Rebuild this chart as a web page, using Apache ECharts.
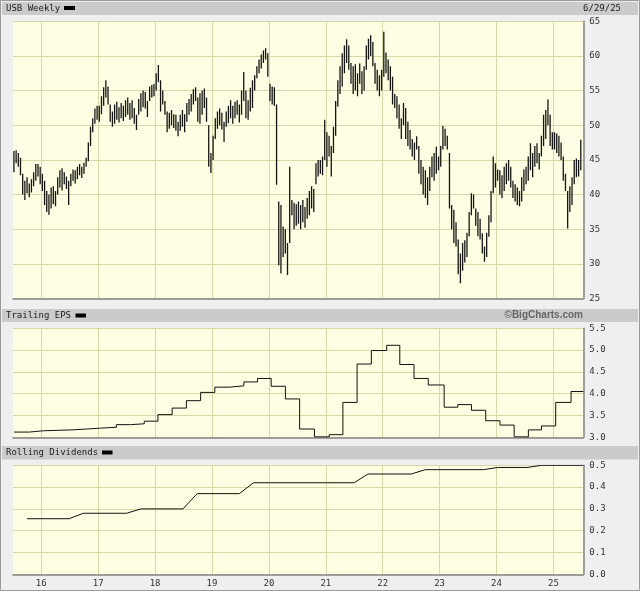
<!DOCTYPE html>
<html><head><meta charset="utf-8">
<script src="https://cdn.jsdelivr.net/npm/echarts@6/dist/echarts.min.js"></script>
<style>html,body{margin:0;padding:0;background:#efefef}#c{width:640px;height:591px}</style>
</head><body><div id="c"></div>
<script>
// ---------- DATA ----------
const yearTicks = [2016, 2017, 2018, 2019, 2020, 2021, 2022, 2023, 2024, 2025];
const barStart = 2015.5;      // first bi-weekly bar period starts here (fractional year)
const barsPerYear = 26;       // bi-weekly bars
// bi-weekly price ranges (low / high)
const priceLo = [
  43.2,44.5,44.0,42.8,40.0,39.2,40.2,39.6,40.3,41.2,42.0,42.6,41.5,
  40.5,38.5,37.5,37.1,38.0,38.6,38.3,40.0,41.0,40.6,41.5,40.8,38.5,41.2,42.0,41.6,42.2,42.8,42.4,43.0,44.0,44.8,47.0,49.0,50.2,50.8,
  50.5,51.6,52.8,54.0,53.0,50.5,49.8,50.2,50.8,50.4,51.0,50.6,51.2,51.5,50.8,51.0,50.2,49.3,51.5,52.0,52.6,52.4,51.2,53.5,54.0,54.2,
  55.0,56.2,52.0,53.0,51.5,49.0,49.5,50.0,49.6,49.2,48.4,49.2,49.8,49.0,50.5,51.5,52.0,53.0,53.5,50.5,50.2,51.5,52.5,50.5,44.0,43.1,
  45.0,48.0,49.5,50.0,49.4,47.6,49.8,50.3,51.0,50.2,51.0,51.5,50.4,51.5,53.5,51.0,50.8,52.0,52.5,55.0,56.8,57.5,58.2,59.0,59.5,57.0,
  53.5,53.0,52.8,41.4,29.8,28.6,31.0,31.5,28.4,33.0,37.0,35.0,35.5,35.8,35.0,36.0,35.2,36.5,37.0,38.0,37.5,41.5,42.6,43.0,42.8,45.0,
  44.0,45.5,42.6,46.0,48.5,52.7,54.5,55.6,57.5,59.0,58.0,56.0,54.5,55.0,54.2,56.0,54.5,55.0,58.0,59.5,60.0,58.5,56.0,55.0,54.2,55.0,57.0,
  57.5,56.5,55.0,53.0,52.5,51.0,49.5,48.0,50.0,48.0,47.0,46.5,45.5,45.0,46.5,43.0,41.5,40.0,39.5,38.5,40.5,42.5,42.0,43.0,43.5,44.0,
  46.5,47.0,46.5,38.0,35.0,33.0,32.5,28.5,27.2,29.0,30.2,31.0,34.0,37.0,38.0,35.5,34.0,33.5,31.5,30.3,31.0,33.9,36.0,40.2,41.0,42.0,
  40.0,39.5,40.5,41.5,42.0,41.0,39.5,39.0,38.5,38.3,39.0,40.5,41.5,42.0,43.5,42.5,44.0,44.5,43.6,45.5,47.0,48.0,50.0,47.0,46.5,
  46.5,46.0,45.5,45.0,42.0,40.5,35.1,37.5,38.5,41.5,42.5,42.6,43.5
];
const priceHi = [
  46.3,46.4,46.0,45.3,43.0,42.0,42.5,41.6,42.2,43.2,44.4,44.4,44.0,
  43.0,42.0,40.5,40.0,41.0,41.2,40.5,42.5,43.5,43.8,43.2,42.6,42.0,43.0,43.6,43.5,44.0,44.4,44.0,44.6,45.3,47.5,49.8,51.0,52.4,52.8,
  52.8,54.2,55.5,56.5,55.6,53.0,52.0,53.0,53.4,52.6,53.2,52.8,53.6,54.0,53.2,53.6,52.5,51.5,53.8,54.6,55.0,54.8,53.5,55.6,55.8,56.0,
  57.5,58.7,56.5,55.0,53.5,52.0,51.8,52.2,51.6,51.5,50.5,51.5,52.2,51.6,53.2,53.8,54.5,55.2,55.5,54.0,54.6,55.0,55.3,54.0,50.0,46.0,
  48.5,51.0,52.0,52.4,51.8,50.5,52.0,52.8,53.6,52.8,53.4,53.6,53.0,55.0,57.7,55.0,53.6,55.4,56.5,57.2,58.5,59.5,60.2,60.8,61.1,60.4,
  56.0,55.6,55.5,53.0,39.0,38.5,35.4,35.0,33.0,44.0,39.2,38.8,38.6,39.0,38.5,39.2,38.2,39.5,40.5,41.2,40.8,44.5,45.0,45.0,45.5,50.8,
  49.0,48.5,47.0,49.8,53.5,56.5,58.5,60.4,61.5,62.4,61.5,59.0,58.5,58.8,57.5,58.9,57.8,58.5,61.5,62.5,63.0,62.0,59.0,58.0,57.2,58.0,63.5,
  60.5,59.5,58.5,57.0,54.5,54.2,53.0,51.0,53.2,52.5,50.5,49.3,48.0,47.5,48.4,47.0,45.0,44.0,43.5,42.5,44.0,45.5,46.0,46.9,45.5,47.0,
  49.9,49.5,48.5,46.0,38.5,37.8,36.0,33.5,31.5,33.0,33.4,34.5,37.5,40.2,40.0,38.0,37.5,36.5,34.4,32.5,34.5,37.0,40.5,45.5,44.5,43.6,
  43.5,42.8,44.0,44.5,45.0,44.0,42.0,41.5,41.0,40.5,42.5,43.6,44.0,45.5,47.4,46.0,47.0,47.4,46.0,48.5,51.5,52.2,53.7,51.5,49.0,
  49.0,48.8,48.5,47.5,45.5,43.0,40.5,41.2,42.5,45.0,45.2,45.0,47.9
];
// trailing EPS: value that starts at each date (fractional years)
const epsT = [2015.52,2015.79,2016.04,2016.29,2016.54,2016.79,2017.04,2017.32,2017.57,2017.81,
  2018.05,2018.30,2018.55,2018.80,2019.05,2019.30,2019.56,2019.80,2020.04,2020.29,2020.54,2020.80,
  2021.06,2021.30,2021.55,2021.80,2022.07,2022.30,2022.55,2022.80,2023.08,2023.32,2023.56,2023.81,
  2024.06,2024.31,2024.56,2024.79,2025.04,2025.31,2025.525];
const epsV = [3.12,3.15,3.16,3.17,3.19,3.21,3.23,3.29,3.31,3.37,
  3.52,3.67,3.84,4.03,4.15,4.18,4.27,4.35,4.17,3.88,3.19,3.01,
  3.06,3.80,4.68,4.99,5.11,4.67,4.35,4.20,3.69,3.75,3.62,3.38,
  3.28,3.01,3.17,3.26,3.80,4.05,4.05];
// rolling dividends (change points)
const divT = [2015.75,2016.49,2016.74,2017.50,2017.75,2018.49,2018.74,2019.48,2019.73,2021.50,
  2021.74,2022.50,2022.75,2023.77,2024.02,2024.54,2024.79,2025.525];
const divV = [0.255,0.255,0.28,0.28,0.30,0.30,0.37,0.37,0.42,0.42,
  0.46,0.46,0.48,0.48,0.49,0.49,0.50,0.50];

// ---------- CHART ----------
const MONO = '"DejaVu Sans Mono", monospace';
const GRIDC = '#d8d8a6';
const AXC = '#858585';
const xMin = 2015.503, xMax = 2025.525;
const grids = [
  {left: 13, top: 21.3, width: 570.3, height: 277.2},
  {left: 13, top: 328.3, width: 570.3, height: 109},
  {left: 13, top: 465.3, width: 570.3, height: 109}
].map(g => Object.assign({show: true, backgroundColor: '#fefee2', borderWidth: 0}, g));

const xAxes = [0, 1, 2].map(i => ({
  type: 'value', gridIndex: i, min: xMin, max: xMax,
  axisLine: {show: true, onZero: false, lineStyle: {color: AXC, width: 1.5}},
  axisTick: {show: false, customValues: yearTicks},
  axisLabel: {show: i === 2, customValues: yearTicks, margin: 5,
    formatter: v => String(Math.round(v)).slice(2),
    fontFamily: MONO, fontSize: 9, color: '#333'},
  splitLine: {show: true, lineStyle: {color: GRIDC, width: 1}}
}));
function yAx(i, min, max, interval, dec) {
  return {
    type: 'value', gridIndex: i, position: 'right', min, max, interval,
    axisLine: {show: true, lineStyle: {color: AXC, width: 1.5}},
    axisTick: {show: false},
    axisLabel: {margin: 6, fontFamily: MONO, fontSize: 9, color: '#333',
      formatter: v => v.toFixed(dec)},
    splitLine: {show: true, lineStyle: {color: GRIDC, width: 1}}
  };
}
const yAxes = [yAx(0, 25, 65, 5, 0), yAx(1, 3, 5.5, 0.5, 1), yAx(2, 0, 0.5, 0.1, 1)];

const priceData = priceLo.map((lo, i) => [barStart + (i + 0.5) / barsPerYear, lo, priceHi[i]]);

function hdrText(x, y, text, align) {
  return {type: 'text', x, y, silent: true,
    style: {text, font: '9px ' + MONO, fill: '#1a1a1a',
      textAlign: align || 'left', align: align || 'left',
      textVerticalAlign: 'middle', verticalAlign: 'middle'}};
}

const chart = echarts.init(document.getElementById('c'), null, {renderer: 'canvas'});
chart.setOption({
  animation: false,
  backgroundColor: '#efefef',
  grid: grids,
  xAxis: xAxes,
  yAxis: yAxes,
  series: [
    {
      type: 'custom', xAxisIndex: 0, yAxisIndex: 0, clip: true,
      data: priceData, encode: {x: 0, y: [1, 2]},
      renderItem: (params, api) => {
        const t = api.value(0);
        const top = api.coord([t, api.value(2)]);
        const bot = api.coord([t, api.value(1)]);
        return {type: 'rect',
          shape: {x: top[0] - 0.65, y: top[1], width: 1.3, height: Math.max(bot[1] - top[1], 1)},
          style: {fill: '#151515'}};
      }
    },
    {
      type: 'line', xAxisIndex: 1, yAxisIndex: 1, step: 'end', symbol: 'none',
      data: epsT.map((t, i) => [t, epsV[i]]),
      lineStyle: {color: '#111', width: 1}
    },
    {
      type: 'line', xAxisIndex: 2, yAxisIndex: 2, symbol: 'none',
      data: divT.map((t, i) => [t, divV[i]]),
      lineStyle: {color: '#111', width: 1}
    }
  ],
  graphic: [
    {type: 'rect', shape: {x: 2, y: 2, width: 636, height: 13}, style: {fill: '#cbcbcb'}, silent: true},
    {type: 'rect', shape: {x: 2, y: 309, width: 636, height: 13}, style: {fill: '#cbcbcb'}, silent: true},
    {type: 'rect', shape: {x: 2, y: 446, width: 636, height: 13.5}, style: {fill: '#cbcbcb'}, silent: true},
    hdrText(6, 8.5, 'USB Weekly'),
    {type: 'rect', shape: {x: 64, y: 6, width: 11, height: 4}, style: {fill: '#000'}, silent: true},
    hdrText(621, 8.5, '6/29/25', 'right'),
    hdrText(6, 315.5, 'Trailing EPS'),
    {type: 'rect', shape: {x: 75.5, y: 313.5, width: 10.5, height: 4}, style: {fill: '#000'}, silent: true},
    {type: 'text', x: 583, y: 315.5, silent: true,
      style: {text: '\u00A9BigCharts.com', font: 'bold 10px "Liberation Sans", Arial, sans-serif', fill: '#666',
        textAlign: 'right', align: 'right', textVerticalAlign: 'middle', verticalAlign: 'middle'}},
    hdrText(6, 452.5, 'Rolling Dividends'),
    {type: 'rect', shape: {x: 102, y: 450.5, width: 10.5, height: 4}, style: {fill: '#000'}, silent: true},
    {type: 'rect', shape: {x: 0.5, y: 0.5, width: 639, height: 590}, style: {fill: 'none', stroke: '#9a9a9a', lineWidth: 1}, silent: true}
  ]
});
</script></body></html>
